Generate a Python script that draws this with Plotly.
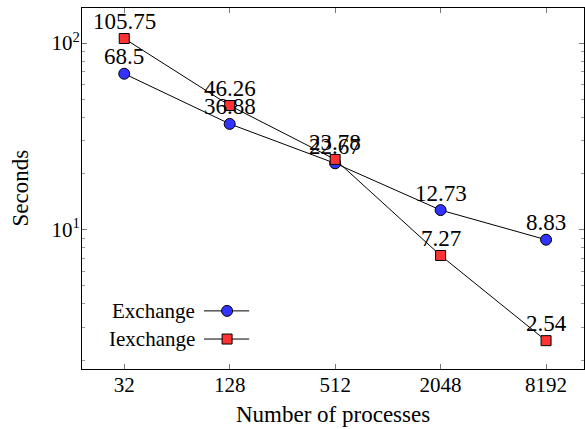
import math
import plotly.graph_objects as go

processes = [32, 128, 512, 2048, 8192]
exchange = [68.5, 36.88, 22.67, 12.73, 8.83]
iexchange = [105.75, 46.26, 23.78, 7.27, 2.54]
series_names = ["Exchange", "Iexchange"]

FONT = "Liberation Serif"
BLUE = "#3333ff"
RED = "#ff3333"

fig = go.Figure()
fig.add_trace(go.Scatter(
    x=processes, y=exchange, mode="lines+markers",
    line=dict(color="black", width=1),
    marker=dict(symbol="circle", size=11, color=BLUE, line=dict(color="black", width=1)),
    showlegend=False, cliponaxis=False))
fig.add_trace(go.Scatter(
    x=processes, y=iexchange, mode="lines+markers",
    line=dict(color="black", width=1),
    marker=dict(symbol="square", size=10, color=RED, line=dict(color="black", width=1)),
    showlegend=False, cliponaxis=False))

# value labels above each point (log axes take log10 positions for annotations)
for series in (exchange, iexchange):
    for p, v in zip(processes, series):
        fig.add_annotation(x=math.log10(p), y=math.log10(v), xref="x", yref="y",
                           text=f"{v:g}", showarrow=False, yshift=17,
                           xanchor="center", yanchor="middle",
                           font=dict(family=FONT, size=23, color="black"))

# manual legend (text left, sample right), drawn on an overlay axis in [0,1]
leg_y = [0.161, 0.083]
symbols = ["circle", "square"]
sizes = [11, 10]
colors = [BLUE, RED]
for name, yy, sym, sz, col in zip(series_names, leg_y, symbols, sizes, colors):
    fig.add_trace(go.Scatter(
        x=[0.243, 0.333], y=[yy, yy], mode="lines",
        xaxis="x2", yaxis="y2", line=dict(color="black", width=1),
        showlegend=False, hoverinfo="skip"))
    fig.add_trace(go.Scatter(
        x=[0.289], y=[yy], mode="markers",
        xaxis="x2", yaxis="y2",
        marker=dict(symbol=sym, size=sz, color=col, opacity=1,
                    line=dict(color="black", width=1)),
        showlegend=False, hoverinfo="skip"))
    fig.add_annotation(x=0.229, y=yy, xref="x2", yref="y2", text=name,
                       xanchor="right", yanchor="middle", showarrow=False,
                       font=dict(family=FONT, size=21, color="black"))

# axis titles
fig.add_annotation(x=0.5, y=0, xref="paper", yref="paper", yshift=-45,
                   text="Number of processes", showarrow=False,
                   xanchor="center", yanchor="middle",
                   font=dict(family=FONT, size=23, color="black"))
fig.add_annotation(x=0, y=0.5, xref="paper", yref="paper", xshift=-62,
                   text="Seconds", showarrow=False, textangle=-90,
                   xanchor="center", yanchor="middle",
                   font=dict(family=FONT, size=23, color="black"))

fig.update_layout(
    width=585, height=429,
    margin=dict(l=82, r=1, t=8, b=60, autoexpand=False),
    paper_bgcolor="white", plot_bgcolor="white",
    font=dict(family=FONT, size=21, color="black"),
    xaxis=dict(type="log", range=[1.264, 4.130], automargin=False,
               tickvals=processes, ticktext=[str(p) for p in processes],
               ticks="inside", ticklen=5, tickcolor="#777", showgrid=False,
               showline=True, linecolor="black", linewidth=1, mirror="ticks",
               zeroline=False, tickfont=dict(family=FONT, size=21),
               ticklabelstandoff=-3),
    yaxis=dict(type="log", range=[0.253, 2.188], automargin=False,
               tickvals=[10, 100], ticktext=["10<sup>1</sup>", "10<sup>2</sup>"],
               ticks="inside", ticklen=5, tickcolor="#777", showgrid=False,
               showline=True, linecolor="black", linewidth=1, mirror="ticks",
               zeroline=False, tickfont=dict(family=FONT, size=21),
               ticklabelstandoff=-3,
               minor=dict(ticks="inside", ticklen=3, tickcolor="#999",
                          tickvals=[2, 3, 4, 5, 6, 7, 8, 9, 20, 30, 40, 50, 60, 70, 80, 90, 200],
                          showgrid=False)),
    xaxis2=dict(domain=[0, 1], range=[0, 1], overlaying="x", visible=False, fixedrange=True),
    yaxis2=dict(domain=[0, 1], range=[0, 1], overlaying="y", visible=False, fixedrange=True, anchor="x2"),
)

fig.write_html("out.html", config={"displayModeBar": False},
               post_script="document.body.style.margin='0px';")
